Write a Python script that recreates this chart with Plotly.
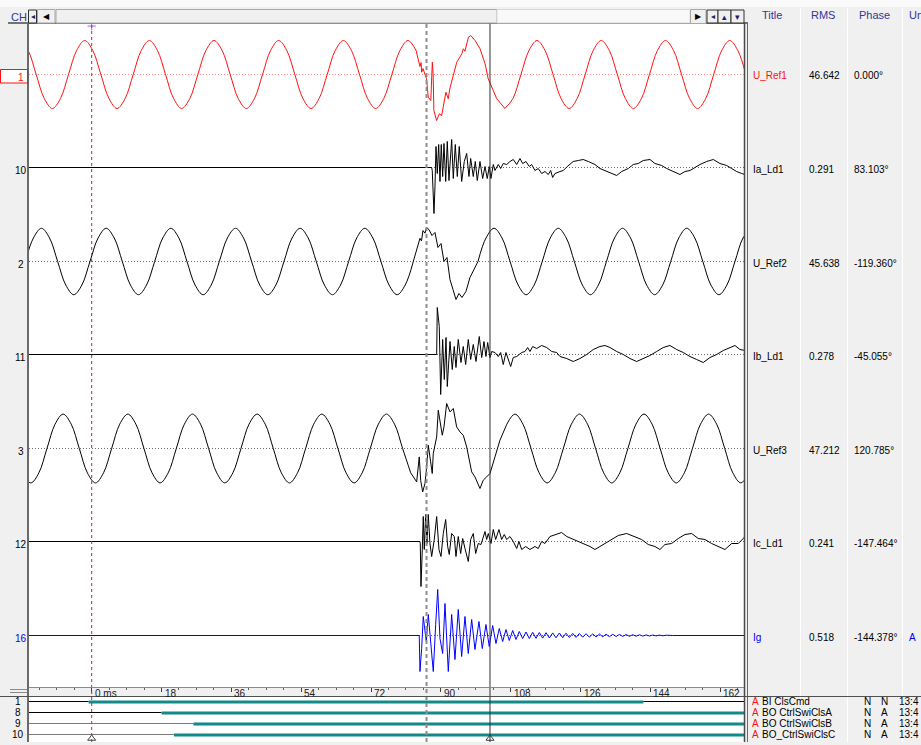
import plotly.graph_objects as go

W, H = 921, 745
FONT = "Liberation Sans, Arial, sans-serif"

# ---------------- record window (ms) ----------------
T_START, T_END = -16.16, 168.13

# ---------------- analog channel table ----------------
CH_NUMBERS = ["1", "10", "2", "11", "3", "12", "16"]
CH_TITLES = ["U_Ref1", "Ia_Ld1", "U_Ref2", "Ib_Ld1", "U_Ref3", "Ic_Ld1", "Ig"]
CH_RMS = ["46.642", "0.291", "45.638", "0.278", "47.212", "0.241", "0.518"]
CH_PHASE = ["0.000°", "83.103°", "-119.360°", "-45.055°", "120.785°", "-147.464°", "-144.378°"]
CH_UNIT = ["", "", "", "", "", "", "A"]

# ---------------- U_Ref1 (V) ----------------
UREF1_PRE_T0, UREF1_PRE_DT = -18.47, 2.0833
UREF1_PRE = [66, 46.7, 0, -46.7, -66, -46.7, 0, 46.7,
             66, 46.7, 0, -46.7, -66, -46.7, 0, 46.7,
             66, 46.7, 0, -46.7, -66, -46.7, 0, 46.7,
             66, 46.7, 0, -46.7, -66, -46.7, 0, 46.7,
             66, 46.7, 0, -46.7, -66, -46.7, 0, 46.7,
             66, 46.7, 0, -46.7, -66, -46.7, 0, 46.7,
             66, 46.7]
UREF1_FLT_T = [84.2, 84.6, 84.9, 85.05, 85.4, 85.9, 86.3, 86.75, 87.4, 87.8,
               88.0, 88.2, 88.9, 89.6, 90.2, 90.6, 91.3, 91.9, 92.3, 93.2,
               94.1, 95.4, 95.8, 96.2, 97.1, 97.7, 98.8, 100.1, 101.4, 102.2,
               102.8, 104.4]
UREF1_FLT_V = [27.2, 15.5, 23.3, 4.5, 11.6, -1.9, -8.3, -44.0, -50.5, 23.9,
               1.4, -69.9, -89.3, -76.3, -79.6, -63.5, -34.4, -47.2, -27.8, -1.9,
               23.9, 40.2, 49.9, 45.2, 72.4, 75.7, 66.0, 49.9, 20.8, -8.3,
               -18.0, -47.0]
UREF1_POST_T0, UREF1_POST_DT = 106.5, 2.07
UREF1_POST = [-66, -46.7, 0, 46.7, 66, 46.7, 0, -46.7,
              -66, -46.7, 0, 46.7, 66, 46.7, 0, -46.7,
              -66, -46.7, 0, 46.7, 66, 46.7, 0, -46.7,
              -66, -46.7, 0, 46.7, 66, 46.7, 0]

# ---------------- U_Ref2 (V) ----------------
UREF2_PRE_T0, UREF2_PRE_DT = -17.107, 2.0833
UREF2_PRE = [0, 45.6, 64.5, 45.6, 0, -45.6, -64.5, -45.6,
             0, 45.6, 64.5, 45.6, 0, -45.6, -64.5, -45.6,
             0, 45.6, 64.5, 45.6, 0, -45.6, -64.5, -45.6,
             0, 45.6, 64.5, 45.6, 0, -45.6, -64.5, -45.6,
             0, 45.6, 64.5, 45.6, 0, -45.6, -64.5, -45.6,
             0, 45.6, 64.5, 45.6, 0, -45.6, -64.5, -45.6,
             0]
UREF2_FLT_T = [83.84, 84.61, 85.0, 85.39, 85.9, 86.29, 86.93, 87.71, 88.48, 89.25,
               90.03, 90.8, 91.57, 92.35, 93.12, 93.89, 94.66, 95.44, 96.47, 97.5]
UREF2_FLT_V = [25, 45, 40, 60, 55, 66, 62, 50.4, 56.3, 27.2,
               34.9, 0, 7.8, -34.9, -54.3, -73.7, -62.1, -69.8, -58.2, -31]
UREF2_POST_T0, UREF2_POST_DT = 99.56, 2.07
UREF2_POST = [0, 45.6, 64.5, 45.6, 0, -45.6, -64.5, -45.6,
              0, 45.6, 64.5, 45.6, 0, -45.6, -64.5, -45.6,
              0, 45.6, 64.5, 45.6, 0, -45.6, -64.5, -45.6,
              0, 45.6, 64.5, 45.6, 0, -45.6, -64.5, -45.6,
              0, 45.6, 64.5]

# ---------------- U_Ref3 (V) ----------------
UREF3_PRE_T0, UREF3_PRE_DT = -19.86, 2.0833
UREF3_PRE = [0, -47.2, -66.8, -47.2, 0, 47.2, 66.8, 47.2,
             0, -47.2, -66.8, -47.2, 0, 47.2, 66.8, 47.2,
             0, -47.2, -66.8, -47.2, 0, 47.2, 66.8, 47.2,
             0, -47.2, -66.8, -47.2, 0, 47.2, 66.8, 47.2,
             0, -47.2, -66.8, -47.2, 0, 47.2, 66.8, 47.2,
             0, -47.2, -66.8, -47.2, 0, 47.2, 66.8, 47.2,
             0, -47.2]
UREF3_FLT_T = [83.76, 84.43, 84.79, 85.31, 85.9, 86.34, 86.75, 87.37, 87.78, 88.04,
               88.48, 88.92, 89.33, 89.77, 90.36, 90.8, 91.49, 92.35, 93.2, 94.07,
               94.92, 95.77, 96.65, 97.94, 98.79, 100.08, 100.93, 101.8, 102.66, 103.94,
               105.23]
UREF3_FLT_V = [-64.8, -16.3, -61.5, -84.2, -67.9, -35.7, 6.4, -26, -48.5, -9.7,
               9.7, 22.5, 74.3, 54.9, 25.8, 41.9, 87.3, 71, 77.6, 41.9,
               32.2, 25.8, 3.1, -45.4, -55.1, -77.6, -61.5, -55.1, -48.5, -16.3,
               16.1]
UREF3_POST_T0, UREF3_POST_DT = 107.0, 2.08
UREF3_POST = [47.2, 66.8, 47.2, 0, -47.2, -66.8, -47.2, 0,
              47.2, 66.8, 47.2, 0, -47.2, -66.8, -47.2, 0,
              47.2, 66.8, 47.2, 0, -47.2, -66.8, -47.2, 0,
              47.2, 66.8, 47.2, 0, -47.2, -66.8, -47.2]

# ---------------- load currents (A) ----------------
IA_T = [-16.2, 87.63, 87.78, 88.04, 88.22, 88.48, 88.74, 89.07, 89.43, 89.77,
        90.1, 90.46, 90.8, 91.24, 91.65, 92.09, 92.78, 93.2, 93.71, 94.23,
        94.74, 95.36, 96.03, 96.65, 97.24, 97.68, 98.35, 98.87, 99.38, 100.08,
        100.77, 101.37, 101.96, 102.47, 102.91, 103.51, 103.94, 104.79, 105.41, 106.08,
        106.96, 107.81, 108.66, 109.54, 110.39, 111.08, 111.93, 112.78, 113.4, 114.25,
        115.1, 115.98, 116.83, 117.68, 118.3, 118.81, 119.41, 120.7, 121.55, 122.58,
        123.27, 124.12, 125.41, 126.7, 127.99, 129.72, 131.0, 132.73, 134.02, 135.31,
        136.6, 138.3, 139.59, 140.88, 142.16, 143.89, 145.18, 146.91, 148.2, 149.9,
        151.62, 152.91, 154.2, 155.49, 156.78, 158.51, 160.21, 161.93, 163.66, 164.95,
        166.24, 167.53, 168.38]
IA_V = [0, 0, -0.03, -0.36, -0.46, -0.19, 0.21, -0.06, 0.23, -0.14,
        0.23, -0.09, 0.24, -0.14, 0.26, -0.13, 0.28, -0.11, 0.23, -0.09,
        0.21, -0.14, 0.06, 0.14, -0.09, 0.09, -0.09, 0.06, -0.13, 0.06,
        -0.11, 0.01, -0.11, 0.01, -0.11, 0.03, -0.03, 0.03, -0.01, 0.04,
        0.03, 0.06, 0.08, 0.03, 0.09, 0.04, 0.06, 0.01, 0.03, -0.03,
        -0.01, -0.06, -0.04, -0.07, -0.03, -0.10, -0.06, -0.04, -0.03, 0.01,
        0.03, 0.06, 0.07, 0.08, 0.06, 0.03, -0.01, -0.04, -0.06, -0.08,
        -0.04, -0.01, 0.03, 0.04, 0.07, 0.08, 0.04, 0.02, -0.01, -0.04,
        -0.07, -0.04, -0.03, 0.00, 0.03, 0.06, 0.08, 0.04, 0.02, -0.01,
        -0.04, -0.06, -0.07]

IB_T = [-16.2, 88.92, 89.07, 89.59, 89.95, 90.46, 90.88, 91.32, 91.65, 92.35,
        92.94, 93.45, 93.89, 94.48, 95.18, 95.77, 96.39, 97.06, 97.68, 98.35,
        99.05, 99.9, 100.52, 101.11, 101.62, 102.06, 102.66, 103.09, 103.94, 104.79,
        105.41, 106.08, 106.78, 107.37, 107.99, 108.66, 109.54, 110.82, 111.68, 112.37,
        112.96, 113.66, 114.69, 115.98, 117.27, 118.56, 119.85, 120.7, 122.42, 124.12,
        125.85, 127.58, 129.28, 131.0, 132.29, 133.58, 135.31, 137.01, 138.74, 140.46,
        142.16, 143.89, 145.62, 147.32, 149.05, 150.77, 152.47, 154.2, 155.93, 157.63,
        159.36, 161.08, 162.78, 164.51, 165.8, 167.09, 168.38]
IB_V = [0, 0, 0.47, 0.28, -0.40, 0.15, -0.25, 0.17, -0.32, 0.13,
        -0.15, 0.08, -0.13, 0.15, -0.08, 0.08, -0.10, 0.15, -0.05, 0.10,
        -0.07, 0.18, -0.03, 0.13, -0.02, 0.12, -0.03, 0.03, 0.02, -0.02,
        0.02, -0.10, 0.02, -0.05, -0.12, -0.03, -0.02, 0.02, 0.03, 0.07,
        0.03, 0.08, 0.06, 0.09, 0.07, 0.03, 0.02, -0.02, -0.04, -0.07,
        -0.04, 0.00, 0.05, 0.08, 0.09, 0.07, 0.03, 0.00, -0.04, -0.07,
        -0.04, -0.01, 0.03, 0.07, 0.09, 0.05, 0.02, -0.02, -0.05, -0.08,
        -0.03, 0.00, 0.04, 0.07, 0.09, 0.05, 0.04]

IC_T = [-16.2, 84.61, 84.69, 84.87, 85.21, 85.46, 85.72, 86.08, 86.42, 86.75,
        87.19, 87.63, 88.3, 88.92, 89.51, 90.03, 90.62, 91.24, 91.75, 92.16,
        92.78, 93.45, 93.89, 94.48, 95.1, 95.62, 96.21, 97.06, 97.68, 98.35,
        98.97, 99.64, 100.34, 100.93, 101.37, 101.8, 102.22, 102.91, 103.51, 104.12,
        104.97, 105.67, 106.34, 106.96, 107.81, 108.66, 109.54, 110.13, 110.82, 111.86,
        112.96, 114.25, 115.1, 115.98, 116.83, 118.12, 119.41, 121.13, 122.42, 123.71,
        125.41, 127.14, 128.43, 129.72, 131.0, 132.29, 134.02, 135.72, 137.89, 140.03,
        141.75, 143.45, 145.18, 146.47, 147.76, 149.48, 151.19, 152.91, 154.64, 156.34,
        158.07, 159.79, 161.5, 163.22, 164.95, 166.65, 167.94, 168.38]
IC_V = [0, 0, -0.02, -0.45, -0.08, 0.25, -0.08, 0.27, -0.02, 0.27,
        -0.02, -0.15, 0.02, 0.25, -0.08, -0.15, 0.08, 0.22, -0.05, -0.13,
        0.08, 0.05, -0.15, 0.05, -0.12, 0.03, -0.07, -0.20, 0.02, 0.08,
        -0.12, -0.02, -0.03, 0.05, 0.10, 0.02, 0.08, -0.02, 0.12, 0.02,
        0.12, 0.02, 0.07, 0.02, 0.05, 0.00, -0.07, 0.00, -0.08, -0.05,
        -0.08, -0.05, -0.07, 0.00, -0.02, 0.05, 0.07, 0.09, 0.05, 0.03,
        0.00, -0.03, -0.05, -0.08, -0.05, -0.02, 0.02, 0.06, 0.08, 0.05,
        0.02, -0.03, -0.05, -0.08, -0.03, -0.02, 0.03, 0.07, 0.08, 0.03,
        0.02, -0.02, -0.05, -0.08, -0.02, -0.02, 0.03, 0.05]

# ---------------- ground current Ig (A) ----------------
IG_T = [-16.2, 84.43, 84.61, 85.05, 85.46, 85.9, 86.24, 86.75, 87.37, 88.04,
        88.66, 89.18, 89.77, 90.46, 91.06, 91.91, 92.78, 93.63, 94.48, 95.36,
        96.21, 97.06, 97.94, 98.79, 99.82, 100.67, 101.62, 102.47, 103.35, 104.2,
        105.05, 105.93, 106.78, 107.63, 108.51, 109.36, 110.21, 111.08]
IG_V = [0, 0, -0.36, -0.13, 0.19, 0.07, -0.06, 0.21, -0.03, -0.36,
        0.11, 0.46, -0.03, -0.18, 0.32, -0.36, 0.21, -0.24, 0.26, -0.21,
        0.19, -0.18, 0.16, -0.14, 0.14, -0.13, 0.11, -0.11, 0.10, -0.08,
        0.07, -0.06, 0.06, -0.05, 0.05, -0.04, 0.04, -0.03]
IG_RING_T0, IG_RING_DT = 111.94, 0.86
IG_RING = [0.035, -0.03, 0.032, -0.028, 0.03, -0.026, 0.028, -0.025, 0.026, -0.023,
           0.025, -0.022, 0.023, -0.02, 0.021, -0.019, 0.02, -0.017, 0.018, -0.016,
           0.016, -0.014, 0.015, -0.013, 0.013, -0.012, 0.012, -0.01, 0.011, -0.009,
           0.01, -0.008, 0.008, -0.007, 0.007, -0.006, 0.006, -0.005, 0.005, -0.004,
           0.004, -0.003, 0.003, -0.002, 0]
IG_TAIL_T = [168.38]
IG_TAIL_V = [0]

# ---------------- binary channels ----------------
DIG_NUMBERS = ["1", "8", "9", "10"]
DIG_NAMES = ["BI ClsCmd", "BO CtrlSwiClsA", "BO CtrlSwiClsB", "BO_CtrlSwiClsC"]
DIG_ON = [-0.8, 18.0, 26.2, 21.2]
DIG_OFF = [142.2, None, None, None]
DIG_FLAG1 = ["N", "N", "N", "N"]
DIG_FLAG2 = ["N", "A", "A", "A"]
DIG_TIME = ["13:4", "13:4", "13:4", "13:4"]

# ---------------- time ruler and cursors ----------------
TICK_MS = [0, 18, 36, 54, 72, 90, 108, 126, 144, 162]
TICK_TEXT = ["0 ms", "18", "36", "54", "72", "90", "108", "126", "144", "162"]
CURSOR_A_T = 0.0
CURSOR_B_T = 102.66
FAULT_T = 86.3

# ---------------- display geometry (pixels) ----------------
PLOT_L, PLOT_R, PLOT_T, PLOT_B = 29, 744, 23, 687
DIG_T, DIG_B = 697, 742
LANE_Y = [int(74 + 93.5 * i) + 0.5 for i in range(7)]
DIG_ROW_Y = [int(701 + 11 * i) + 0.5 for i in range(4)]
V_SCALE = 34.0 / 66.0     # px per volt
I_SCALE = 100.0           # px per ampere
RED, BLUE, TEAL = "#ff1010", "#0000ff", "#128a8a"
CH_COLORS = [RED, "#000000", "#000000", "#000000", "#000000", "#000000", BLUE]
HEAD_BLUE = "#34349c"


def grid(t0, dt, n):
    return [t0 + i * dt for i in range(n)]


def lane(i, values, scale):
    return [LANE_Y[i] - v * scale for v in values]


def px(x):
    return x / W


def py(y):
    return 1 - y / H


fig = go.Figure()


def add_wave(t, y, color, shape="linear", width=1.0):
    fig.add_trace(go.Scatter(x=t, y=y, mode="lines", hoverinfo="skip",
                             line=dict(color=color, width=width, shape=shape),
                             xaxis="x", yaxis="y"))


# voltage channels: steady parts drawn smooth, the fault interval point-to-point
VOLTAGES = [
    (0, UREF1_PRE_T0, UREF1_PRE_DT, UREF1_PRE, UREF1_FLT_T, UREF1_FLT_V,
     UREF1_POST_T0, UREF1_POST_DT, UREF1_POST),
    (2, UREF2_PRE_T0, UREF2_PRE_DT, UREF2_PRE, UREF2_FLT_T, UREF2_FLT_V,
     UREF2_POST_T0, UREF2_POST_DT, UREF2_POST),
    (4, UREF3_PRE_T0, UREF3_PRE_DT, UREF3_PRE, UREF3_FLT_T, UREF3_FLT_V,
     UREF3_POST_T0, UREF3_POST_DT, UREF3_POST),
]
for (k, p_t0, p_dt, pre, f_t, f_v, q_t0, q_dt, post) in VOLTAGES:
    pre_t = grid(p_t0, p_dt, len(pre))
    post_t = grid(q_t0, q_dt, len(post))
    col = CH_COLORS[k]
    add_wave(pre_t, lane(k, pre, V_SCALE), col, "spline")
    add_wave([pre_t[-1]] + f_t + [post_t[0]],
             lane(k, [pre[-1]] + f_v + [post[0]], V_SCALE), col)
    add_wave(post_t, lane(k, post, V_SCALE), col, "spline")

add_wave(IA_T, lane(1, IA_V, I_SCALE), CH_COLORS[1])
add_wave(IB_T, lane(3, IB_V, I_SCALE), CH_COLORS[3])
add_wave(IC_T, lane(5, IC_V, I_SCALE), CH_COLORS[5])
ig_t = IG_T + grid(IG_RING_T0, IG_RING_DT, len(IG_RING)) + IG_TAIL_T
ig_v = IG_V + IG_RING + IG_TAIL_V
add_wave(ig_t, lane(6, ig_v, I_SCALE), CH_COLORS[6])

# binary channel traces
IDLE_COLORS = ["#000000", "#000000", "#7a7a7a", "#7a7a7a"]
for i in range(4):
    y = DIG_ROW_Y[i]
    on = DIG_ON[i]
    off = DIG_OFF[i] if DIG_OFF[i] is not None else T_END
    fig.add_trace(go.Scatter(x=[T_START, on], y=[y, y], mode="lines", hoverinfo="skip",
                             line=dict(color=IDLE_COLORS[i], width=1), xaxis="x2", yaxis="y2"))
    fig.add_trace(go.Scatter(x=[on, off], y=[y + 0.5, y + 0.5], mode="lines", hoverinfo="skip",
                             line=dict(color=TEAL, width=3), xaxis="x2", yaxis="y2"))
    if DIG_OFF[i] is not None:
        fig.add_trace(go.Scatter(x=[off, T_END], y=[y, y], mode="lines", hoverinfo="skip",
                                 line=dict(color=IDLE_COLORS[i], width=1), xaxis="x2", yaxis="y2"))

# cursor flags
fig.add_trace(go.Scatter(x=[CURSOR_A_T, CURSOR_B_T], y=[738.5, 738.5], mode="markers",
                         hoverinfo="skip", cliponaxis=False,
                         marker=dict(symbol="triangle-up-open", size=7,
                                     color="#404040", line=dict(width=1, color="#404040")),
                         xaxis="x2", yaxis="y2"))
fig.add_trace(go.Scatter(x=[CURSOR_A_T], y=[26], mode="markers", hoverinfo="skip",
                         cliponaxis=False,
                         marker=dict(symbol="cross-thin-open", size=6,
                                     line=dict(width=1, color="#202060")),
                         xaxis="x", yaxis="y"))

shapes = []
# lane zero lines
for i, yv in enumerate(LANE_Y):
    shapes.append(dict(type="line", xref="x", yref="y", x0=T_START, x1=T_END, y0=yv, y1=yv,
                       layer="below",
                       line=dict(color="#ff8a8a" if i == 0 else "#6a6a6a", width=1,
                                 dash="1px,2px")))

# cursors
y_lo, y_hi = py(DIG_B), py(PLOT_T)
shapes.append(dict(type="line", xref="x", yref="paper", x0=CURSOR_A_T, x1=CURSOR_A_T,
                   y0=y_lo, y1=y_hi, line=dict(color="#a03838", width=1, dash="3px,3px")))
shapes.append(dict(type="line", xref="x", yref="paper", x0=FAULT_T, x1=FAULT_T,
                   y0=y_lo, y1=y_hi, line=dict(color="#8e8e8e", width=2, dash="4px,3px")))
shapes.append(dict(type="line", xref="x", yref="paper", x0=CURSOR_B_T, x1=CURSOR_B_T,
                   y0=y_lo, y1=y_hi, line=dict(color="#303030", width=1)))


def pline(x0, y0, x1, y1, color, width=1):
    shapes.append(dict(type="line", xref="paper", yref="paper", x0=px(x0), y0=py(y0),
                       x1=px(x1), y1=py(y1), line=dict(color=color, width=width)))


def prect(x0, y0, x1, y1, fill, color, width=1):
    shapes.append(dict(type="rect", xref="paper", yref="paper", x0=px(x0), y0=py(y0),
                       x1=px(x1), y1=py(y1), fillcolor=fill,
                       line=dict(color=color, width=width)))


# window chrome
prect(0, 0, 921, 7, "#fafafa", "rgba(0,0,0,0)", 0)
for xs in (800.5, 847.5, 902.5):
    pline(xs, 8, xs, 742, "#ffffff", 1)
pline(8, 23, 748, 23, "#4a4a4a", 1.5)
pline(28, PLOT_T, 28, DIG_B, "#6a6a6a", 2)
pline(744.5, PLOT_T, 744.5, DIG_B, "#4a4a4a", 1.5)
pline(747.5, PLOT_T, 747.5, DIG_B, "#6a6a6a", 1)
pline(29, PLOT_B + 0.5, 744, PLOT_B + 0.5, "#8a8a8a", 1)
pline(0, DIG_T - 0.5, 921, DIG_T - 0.5, "#505050", 1)
pline(10, 689.5, 27, 689.5, "#8a8a8a", 1)
pline(10, 692.5, 27, 692.5, "#8a8a8a", 1)

# top scroll bar
prect(28.5, 10, 36.5, 23, "#f0f0f0", "#303030", 1)
prect(37.5, 9.5, 55, 23, "#f0f0f0", "#a8a8a8", 1)
prect(56, 9.5, 497, 23, "#f0f0f0", "#a8a8a8", 1)
prect(497, 9.5, 690, 23, "#f9f9f9", "#d8d8d8", 1)
prect(690.5, 9.5, 706, 23.5, "#f0f0f0", "#a8a8a8", 1)
prect(707, 10, 718, 23, "#f0f0f0", "#303030", 1)
prect(718, 10, 731, 23, "#f0f0f0", "#303030", 1)
prect(731, 10, 744, 23, "#f0f0f0", "#303030", 1)

# channel-1 marker box
prect(0.5, 69.5, 27.5, 83, "#ffffff", RED, 1)

ann = []


def text(x, y, s, color="#000000", size=10, anchor="left"):
    ann.append(dict(x=px(x), y=py(y), xref="paper", yref="paper", text=s, showarrow=False,
                    xanchor=anchor, yanchor="middle", borderpad=0,
                    font=dict(family=FONT, size=size, color=color)))


text(10, 16.5, "CH", HEAD_BLUE, 11)
text(32.5, 16.5, "◂", "#202060", 8, "center")
text(46.5, 16.5, "◀", "#000000", 8, "center")
text(698, 16.5, "▶", "#000000", 8, "center")
text(712.5, 16.5, "◂", "#202060", 8, "center")
text(724.5, 16.5, "▴", "#202060", 9, "center")
text(737.5, 16.5, "▾", "#202060", 9, "center")

text(771.5, 15, "Title", HEAD_BLUE, 11, "center")
text(823, 15, "RMS", HEAD_BLUE, 11, "center")
text(874, 15, "Phase", HEAD_BLUE, 11, "center")
text(907.5, 15, "Unit", HEAD_BLUE, 11)

for i in range(7):
    yv = LANE_Y[i] + 1.5
    col = CH_COLORS[i]
    text(20.5, yv + 1.5, CH_NUMBERS[i], col, 10, "center")
    text(751.5, yv, CH_TITLES[i], col, 10)
    text(807.5, yv, CH_RMS[i], "#000000", 10)
    text(853, yv, CH_PHASE[i], "#000000", 10)
    if CH_UNIT[i]:
        text(907.5, yv, CH_UNIT[i], col, 10)

for i in range(4):
    yv = DIG_ROW_Y[i]
    text(18, yv, DIG_NUMBERS[i], "#000000", 10, "center")
    text(751, yv, "A", RED, 10)
    text(760.5, yv, DIG_NAMES[i], "#000000", 10)
    text(863, yv, DIG_FLAG1[i], "#000000", 10)
    text(880, yv, DIG_FLAG2[i], "#000000", 10)
    text(898, yv, DIG_TIME[i], "#000000", 10)

for tv, tt in zip(TICK_MS, TICK_TEXT):
    ann.append(dict(x=tv, y=py(693.5), xref="x", yref="paper", text=tt, showarrow=False,
                    xanchor="left", yanchor="middle", xshift=2, borderpad=0,
                    font=dict(family=FONT, size=10, color="#202020")))

fig.update_layout(
    width=W, height=H, margin=dict(l=0, r=0, t=0, b=0),
    paper_bgcolor="#f0f0f0", plot_bgcolor="#ffffff", showlegend=False,
    xaxis=dict(domain=[px(PLOT_L), px(PLOT_R)], range=[T_START, T_END],
               showgrid=False, zeroline=False, showticklabels=False, showline=False,
               ticks="outside", ticklen=4, tickwidth=1, tickcolor="#404040",
               tickvals=TICK_MS,
               minor=dict(ticks="outside", ticklen=2, tickcolor="#606060",
                          tick0=0, dtick=4.5, showgrid=False),
               anchor="y", fixedrange=True),
    yaxis=dict(domain=[py(PLOT_B), py(PLOT_T)], range=[PLOT_B, PLOT_T], visible=False,
               anchor="x", fixedrange=True),
    xaxis2=dict(domain=[px(PLOT_L), px(PLOT_R)], range=[T_START, T_END], visible=False,
                anchor="y2", fixedrange=True),
    yaxis2=dict(domain=[py(DIG_B), py(DIG_T)], range=[DIG_B, DIG_T], visible=False,
                anchor="x2", fixedrange=True),
    shapes=shapes, annotations=ann,
)

fig.write_html("out.html")
